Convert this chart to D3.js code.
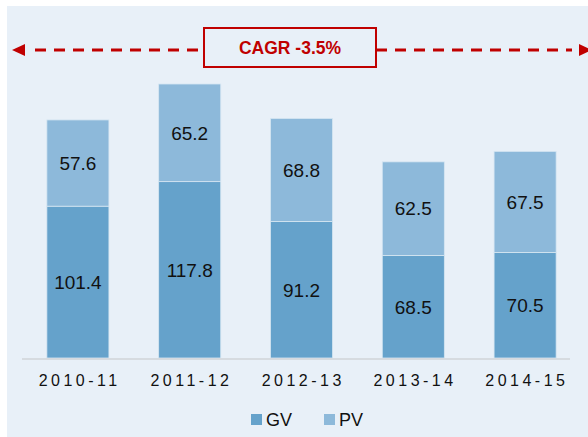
<!DOCTYPE html>
<html>
<head>
<meta charset="utf-8">
<script src="https://cdn.jsdelivr.net/npm/d3@7"></script>
<style>
  body { margin: 0; background: #ffffff; }
  text { font-family: "Liberation Sans", Arial, sans-serif; }
</style>
</head>
<body>
<div id="chart"></div>
<script>
// data
var years = ["2010-11", "2011-12", "2012-13", "2013-14", "2014-15"];
var gvValues = [101.4, 117.8, 91.2, 68.5, 70.5];
var pvValues = [57.6, 65.2, 68.8, 62.5, 67.5];
var seriesNames = ["GV", "PV"];
var seriesColors = ["#65a2cb", "#8db9da"];
var cagrLabel = "CAGR -3.5%";

var width = 588, height = 437;
var svg = d3.select("#chart").append("svg")
    .attr("width", width)
    .attr("height", height);

// light blue panel
svg.append("rect")
    .attr("x", 7).attr("y", 6)
    .attr("width", width - 7).attr("height", height - 6)
    .attr("fill", "#e8f0f8");

var baseline = 358;
var rows = years.map(function(y, i){
    return {year: y, GV: gvValues[i], PV: pvValues[i]};
});

var x = d3.scaleBand().domain(years).range([22, 581]).paddingInner(0.445).paddingOuter(0.2225);
var y = d3.scaleLinear().domain([0, 183]).range([baseline, 84]);

var stack = d3.stack().keys(seriesNames)(rows);

var layers = svg.selectAll("g.layer")
    .data(stack)
    .enter().append("g")
    .attr("class", "layer")
    .attr("fill", function(d, i){ return seriesColors[i]; });

layers.selectAll("rect")
    .data(function(d){ return d; })
    .enter().append("rect")
    .attr("x", function(d){ return x(d.data.year); })
    .attr("width", x.bandwidth())
    .attr("y", function(d){ return y(d[1]); })
    .attr("height", function(d){ return y(d[0]) - y(d[1]); })
    .attr("stroke", "#d6e6f2")
    .attr("stroke-width", 0.8);

layers.selectAll("text")
    .data(function(d){ return d; })
    .enter().append("text")
    .attr("x", function(d){ return x(d.data.year) + x.bandwidth() / 2; })
    .attr("y", function(d){ return (y(d[0]) + y(d[1])) / 2; })
    .attr("text-anchor", "middle")
    .attr("dy", "0.36em")
    .attr("font-size", 19)
    .attr("fill", "#111")
    .text(function(d){ return (d[1] - d[0]).toFixed(1); });

// x axis
var xAxis = svg.append("g")
    .attr("transform", "translate(0," + (baseline + 1) + ")")
    .call(d3.axisBottom(x).tickSize(0).tickPadding(16));
xAxis.select(".domain").attr("stroke", "#d0d4d8").attr("stroke-width", 1.5)
    .attr("d", "M22,0H570");
xAxis.selectAll("text")
    .attr("font-size", 16)
    .attr("letter-spacing", "3.5px")
    .attr("dx", "1.75px")
    .attr("fill", "#111")
    .style("font-family", "'Liberation Sans', Arial, sans-serif");

// CAGR annotation
var arrowY = 50;
var red = "#c00000";

svg.append("line")
    .attr("x1", 198).attr("x2", 30)
    .attr("y1", arrowY).attr("y2", arrowY)
    .attr("stroke", red).attr("stroke-width", 3)
    .attr("stroke-dasharray", "11,8");
svg.append("line")
    .attr("x1", 376).attr("x2", 572)
    .attr("y1", arrowY).attr("y2", arrowY)
    .attr("stroke", red).attr("stroke-width", 3)
    .attr("stroke-dasharray", "11,8");
// arrow heads
svg.append("path")
    .attr("d", "M12," + arrowY + "L25," + (arrowY - 6) + "L25," + (arrowY + 6) + "Z")
    .attr("fill", red);
svg.append("path")
    .attr("d", "M592," + arrowY + "L579," + (arrowY - 6) + "L579," + (arrowY + 6) + "Z")
    .attr("fill", red);

svg.append("rect")
    .attr("x", 204).attr("y", 28)
    .attr("width", 172).attr("height", 39)
    .attr("fill", "none")
    .attr("stroke", red).attr("stroke-width", 2);
svg.append("text")
    .attr("x", 290).attr("y", 48)
    .attr("dy", "0.36em")
    .attr("text-anchor", "middle")
    .attr("font-size", 17.5)
    .attr("font-weight", "bold")
    .attr("fill", red)
    .text(cagrLabel);

// legend
var legend = svg.append("g").attr("transform", "translate(251,414)");
var legendItems = legend.selectAll("g")
    .data(seriesNames)
    .enter().append("g")
    .attr("transform", function(d, i){ return "translate(" + (i * 73) + ",0)"; });
legendItems.append("rect")
    .attr("width", 11).attr("height", 11)
    .attr("fill", function(d, i){ return seriesColors[i]; });
legendItems.append("text")
    .attr("x", 15).attr("y", 6)
    .attr("dy", "0.36em")
    .attr("font-size", 18)
    .attr("fill", "#111")
    .text(function(d){ return d; });
</script>
</body>
</html>
